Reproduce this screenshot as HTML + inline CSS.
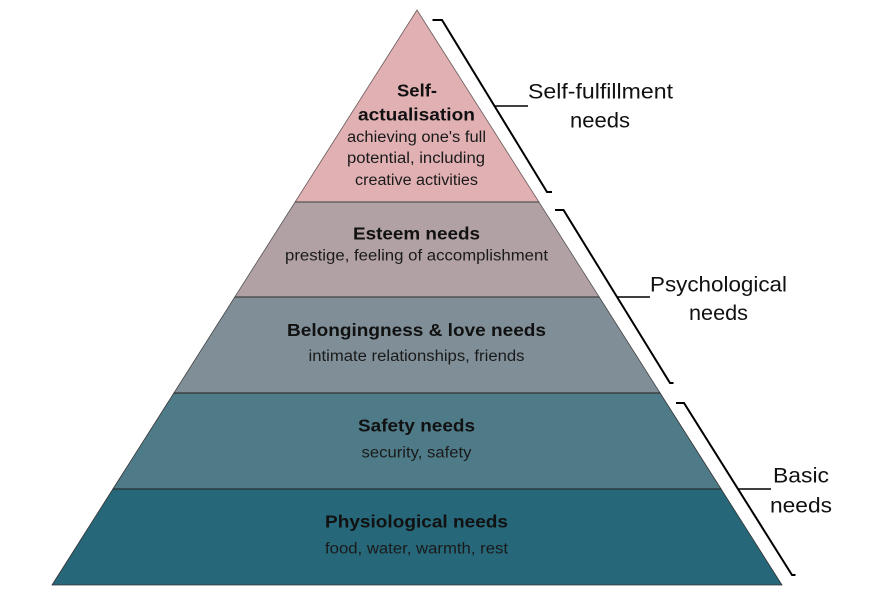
<!DOCTYPE html>
<html>
<head>
<meta charset="utf-8">
<style>
  html, body { margin: 0; padding: 0; background: #ffffff; }
  body { width: 883px; height: 595px; overflow: hidden; }
  svg { display: block; }
  text { font-family: "Liberation Sans", Arial, sans-serif; fill: #111; }
  .t { font-weight: bold; font-size: 17.5px; }
  .s { font-size: 15.5px; fill: #1a1a1a; }
  .l { font-size: 21.5px; fill: #111; }
</style>
</head>
<body>
<svg width="883" height="595" viewBox="0 0 883 595" xmlns="http://www.w3.org/2000/svg">
  <!-- Pyramid layers -->
  <polygon points="417,10 538.9,202 295.1,202" fill="#e0b0b3" stroke="#6b5a5b" stroke-width="0.8"/>
  <polygon points="295.1,202 538.9,202 599.2,297 234.8,297" fill="#b1a1a4" stroke="#555" stroke-width="0.8"/>
  <polygon points="234.8,297 599.2,297 660.1,393 173.9,393" fill="#7f8e97" stroke="#444" stroke-width="0.8"/>
  <polygon points="173.9,393 660.1,393 721.1,489 112.9,489" fill="#4f7b88" stroke="#333" stroke-width="0.8"/>
  <polygon points="112.9,489 721.1,489 782,585 52,585" fill="#266779" stroke="#333" stroke-width="0.8"/>
  <line x1="295.1" y1="202" x2="538.9" y2="202" stroke="#555" stroke-width="1.2"/>
  <line x1="234.8" y1="297" x2="599.2" y2="297" stroke="#444" stroke-width="1.2"/>
  <line x1="173.9" y1="393" x2="660.1" y2="393" stroke="#333" stroke-width="1.2"/>
  <line x1="112.9" y1="489" x2="721.1" y2="489" stroke="#2a3a40" stroke-width="1.4"/>

  <!-- Brackets -->
  <polyline points="432.5,20 442,20 547,192 552,192" fill="none" stroke="#000" stroke-width="2"/>
  <line x1="495" y1="106" x2="528" y2="106" stroke="#000" stroke-width="1.5"/>

  <polyline points="555,210 563.5,210 670,383 673.5,383" fill="none" stroke="#000" stroke-width="2"/>
  <line x1="617" y1="297" x2="650" y2="297" stroke="#000" stroke-width="1.5"/>

  <polyline points="676,403 684,403 792,575 795.5,575" fill="none" stroke="#000" stroke-width="2"/>
  <line x1="738" y1="489" x2="771" y2="489" stroke="#000" stroke-width="1.5"/>

  <!-- Right labels -->
  <text class="l" x="600.5" y="98.5" text-anchor="middle" textLength="145" lengthAdjust="spacingAndGlyphs">Self-fulfillment</text>
  <text class="l" x="600" y="127.5" text-anchor="middle" textLength="60" lengthAdjust="spacingAndGlyphs">needs</text>

  <text class="l" x="718.5" y="291.5" text-anchor="middle" textLength="137" lengthAdjust="spacingAndGlyphs">Psychological</text>
  <text class="l" x="718.5" y="320" text-anchor="middle" textLength="59" lengthAdjust="spacingAndGlyphs">needs</text>

  <text class="l" x="801" y="482.5" text-anchor="middle" textLength="56" lengthAdjust="spacingAndGlyphs">Basic</text>
  <text class="l" x="801" y="512.5" text-anchor="middle" textLength="62" lengthAdjust="spacingAndGlyphs">needs</text>

  <!-- Top layer text -->
  <text class="t" x="417" y="96.5" text-anchor="middle" textLength="40" lengthAdjust="spacingAndGlyphs">Self-</text>
  <text class="t" x="416.5" y="120.5" text-anchor="middle" textLength="117" lengthAdjust="spacingAndGlyphs">actualisation</text>
  <text class="s" x="416.5" y="142" text-anchor="middle" textLength="139" lengthAdjust="spacingAndGlyphs">achieving one's full</text>
  <text class="s" x="416" y="163" text-anchor="middle" textLength="138" lengthAdjust="spacingAndGlyphs">potential, including</text>
  <text class="s" x="416.5" y="185" text-anchor="middle" textLength="123" lengthAdjust="spacingAndGlyphs">creative activities</text>

  <!-- Esteem -->
  <text class="t" x="416.5" y="239.5" text-anchor="middle" textLength="127" lengthAdjust="spacingAndGlyphs">Esteem needs</text>
  <text class="s" x="416.5" y="260.5" text-anchor="middle" textLength="263" lengthAdjust="spacingAndGlyphs">prestige, feeling of accomplishment</text>

  <!-- Belongingness -->
  <text class="t" x="416.5" y="336" text-anchor="middle" textLength="259" lengthAdjust="spacingAndGlyphs">Belongingness &amp; love needs</text>
  <text class="s" x="416.5" y="361" text-anchor="middle" textLength="216" lengthAdjust="spacingAndGlyphs">intimate relationships, friends</text>

  <!-- Safety -->
  <text class="t" x="416.5" y="431.5" text-anchor="middle" textLength="117" lengthAdjust="spacingAndGlyphs">Safety needs</text>
  <text class="s" x="416.5" y="457.5" text-anchor="middle" textLength="110" lengthAdjust="spacingAndGlyphs">security, safety</text>

  <!-- Physiological -->
  <text class="t" x="416.5" y="527.5" text-anchor="middle" textLength="183" lengthAdjust="spacingAndGlyphs">Physiological needs</text>
  <text class="s" x="416.5" y="553.5" text-anchor="middle" textLength="183" lengthAdjust="spacingAndGlyphs">food, water, warmth, rest</text>
</svg>
</body>
</html>
